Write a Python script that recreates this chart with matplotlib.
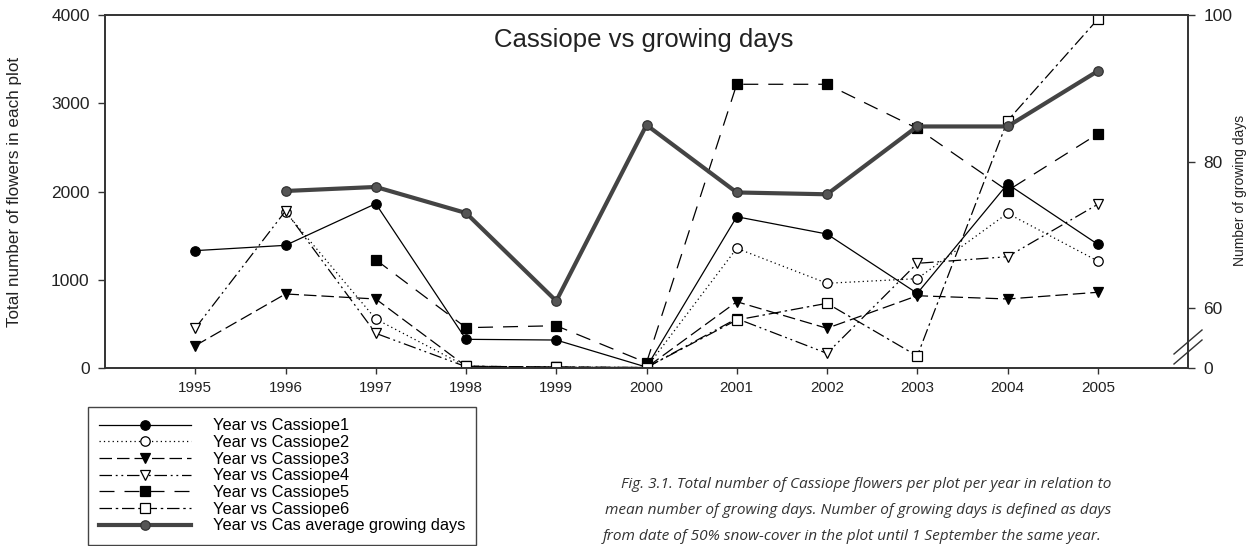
import numpy as np
import matplotlib
matplotlib.use('Agg')
import matplotlib.pyplot as plt
from matplotlib.lines import Line2D

plt.rcParams['font.family'] = ['Liberation Sans', 'DejaVu Sans']

years = [1995, 1996, 1997, 1998, 1999, 2000, 2001, 2002, 2003, 2004, 2005]
nan = np.nan

# flowers per plot (left axis)
cas1 = [1330, 1390, 1862, 325, 317, 10, 1714, 1518, 846, 2085, 1402]
cas2 = [nan, 1768, 555, 20, 10, 5, 1356, 960, 1012, 1753, 1212]
cas3 = [253, 839, 782, 20, 10, 5, 751, 450, 819, 782, 858]
cas4 = [450, 1779, 393, 15, 8, 5, 560, 166, 1186, 1261, 1855]
cas5 = [nan, nan, 1227, 457, 479, 60, 3215, 3215, 2715, 2009, 2652]
cas6 = [nan, nan, nan, 20, 10, 5, 544, 733, 136, 2802, 3951]

# mean number of growing days (right axis)
avg_days = [nan, 76.0, 76.55, 73.0, 61.0, 85.0, 75.8, 75.55, 84.8, 84.8, 92.35]

W, H = 1252, 546
fig = plt.figure(figsize=(W / 100, H / 100), dpi=100)
ax = fig.add_axes([105 / W, 1 - 368 / H, (1188 - 105) / W, 353 / H])

dark = '#333333'
styles = [
    dict(data=cas1, ls='-', marker='o', mfc='black', label='Year vs Cassiope1'),
    dict(data=cas2, ls=(0, (1, 2.5)), marker='o', mfc='white', label='Year vs Cassiope2'),
    dict(data=cas3, ls=(0, (10, 4)), marker='v', mfc='black', label='Year vs Cassiope3'),
    dict(data=cas4, ls=(0, (10, 3, 1.5, 3, 1.5, 3)), marker='v', mfc='white', label='Year vs Cassiope4'),
    dict(data=cas5, ls=(0, (12, 8)), marker='s', mfc='black', label='Year vs Cassiope5'),
    dict(data=cas6, ls=(0, (10, 3, 2, 3)), marker='s', mfc='white', label='Year vs Cassiope6'),
]

handles = []
for s in styles:
    y = np.array(s['data'], dtype=float)
    m = ~np.isnan(y)
    h, = ax.plot(np.array(years)[m], y[m], color='black', lw=0.9, ls=s['ls'],
                 marker=s['marker'], markersize=6.8, markerfacecolor=s['mfc'],
                 markeredgecolor='black', markeredgewidth=0.9, label=s['label'])
    handles.append(h)

ax.set_xlim(1994, 2006)
ax.set_ylim(0, 4000)
ax.set_xticks(years)
ax.set_yticks([0, 1000, 2000, 3000, 4000])
for sp in ax.spines.values():
    sp.set_color(dark)
    sp.set_linewidth(1.2)
ax.tick_params(axis='x', direction='out', length=4.5, width=1, color=dark,
               pad=5, labelsize=11, labelcolor='#222222')
ax.tick_params(axis='y', direction='out', length=5, width=1, color=dark,
               pad=6, labelsize=12.5, labelcolor='#222222')

ax2 = ax.twinx()
bottom_days = 100 - 353 / 7.333
ax2.set_ylim(bottom_days, 100)
ax2.set_yticks([bottom_days, 60, 80, 100])
ax2.set_yticklabels(['0', '60', '80', '100'])
ax2.tick_params(axis='y', direction='out', length=5, width=1, color=dark,
                pad=6, labelsize=12.5, labelcolor='#222222')
for sp in ax2.spines.values():
    sp.set_color(dark)
    sp.set_linewidth(1.2)

avg = np.array(avg_days, dtype=float)
m = ~np.isnan(avg)
h_avg, = ax2.plot(np.array(years)[m], avg[m], color='#444444', lw=3,
                  marker='o', markersize=6.8, markerfacecolor='#555555',
                  markeredgecolor='#333333', markeredgewidth=0.9,
                  label='Year vs Cas average growing days')
handles.append(h_avg)

# axis break marks on the right axis
for dy in (0, 10):
    fig.add_artist(Line2D([1174 / W, 1202 / W],
                          [1 - (364 - dy) / H, 1 - (340 - dy) / H],
                          color=dark, lw=1, transform=fig.transFigure))

ax.text(0.497, 0.929, 'Cassiope vs growing days', transform=ax.transAxes,
        ha='center', va='center', fontsize=18.5, color='#222222')

fig.text(15 / W, 1 - 192 / H, 'Total number of flowers in each plot',
         rotation=90, ha='center', va='center', fontsize=12.3, color='#222222')
fig.text(1240 / W, 1 - 190 / H, 'Number of growing days',
         rotation=90, ha='center', va='center', fontsize=10, color='#222222')

leg = fig.legend(handles, [h.get_label() for h in handles], loc='upper left',
                 bbox_to_anchor=(88 / W, 1 - 407 / H), bbox_transform=fig.transFigure,
                 borderaxespad=0, fancybox=False, edgecolor='#444444',
                 handlelength=5.6, handletextpad=1.3, labelspacing=0.1,
                 borderpad=0.7, fontsize=11.8, numpoints=1, framealpha=1)
leg.get_frame().set_linewidth(1)

cap_kw = dict(fontsize=11.1, style='italic', family=['Open Sans', 'DejaVu Sans'],
              color='#333333', ha='left', va='center')
fig.text(621 / W, 1 - 485 / H,
         'Fig. 3.1. Total number of Cassiope flowers per plot per year in relation to', **cap_kw)
fig.text(605 / W, 1 - 511 / H,
         'mean number of growing days. Number of growing days is defined as days', **cap_kw)
fig.text(603 / W, 1 - 537 / H,
         'from date of 50% snow-cover in the plot until 1 September the same year.', **cap_kw)

fig.savefig('out.png', dpi=100)
